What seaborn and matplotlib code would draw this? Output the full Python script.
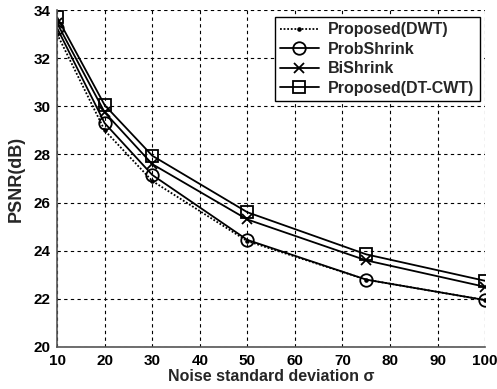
import pandas as pd
import matplotlib
matplotlib.use("Agg")
import matplotlib.pyplot as plt
import seaborn as sns

sigma = [10, 20, 30, 50, 75, 100]
psnr_dwt = [33.0, 29.0, 26.9, 24.4, 22.8, 21.95]
psnr_prob = [33.25, 29.3, 27.15, 24.45, 22.8, 21.95]
psnr_bi = [33.45, 29.75, 27.6, 25.3, 23.6, 22.5]
psnr_dtcwt = [33.7, 30.05, 27.95, 25.6, 23.85, 22.75]

labels = ['Proposed(DWT)', 'ProbShrink', 'BiShrink', 'Proposed(DT-CWT)']
series = [psnr_dwt, psnr_prob, psnr_bi, psnr_dtcwt]

rows = []
for lab, vals in zip(labels, series):
    for s, v in zip(sigma, vals):
        rows.append({'sigma': s, 'PSNR': v, 'method': lab})
df = pd.DataFrame(rows)

sns.set_theme(style="white")
plt.rcParams['font.family'] = ['Liberation Sans', 'DejaVu Sans']

fig = plt.figure(figsize=(4.97, 3.89), dpi=100)
ax = fig.add_axes([0.115, 0.108, 0.861, 0.866])

styles = {
    'Proposed(DWT)': dict(linestyle=(0, (1, 1)), marker='.', markersize=4),
    'ProbShrink': dict(linestyle='-', marker='o', markersize=9, markerfacecolor='none'),
    'BiShrink': dict(linestyle='-', marker='x', markersize=7),
    'Proposed(DT-CWT)': dict(linestyle='-', marker='s', markersize=8, markerfacecolor='none'),
}

for lab in labels:
    sub = df[df['method'] == lab]
    sns.lineplot(data=sub, x='sigma', y='PSNR', ax=ax, color='black', linewidth=1.3,
                 markeredgecolor='black', markeredgewidth=1.3, label=lab, **styles[lab])

ax.set_xlim(10, 100)
ax.set_ylim(20, 34)
ax.set_xticks(range(10, 101, 10))
ax.set_yticks(range(20, 35, 2))
ax.grid(True, color='black', linestyle=(0, (3, 3)), linewidth=0.8)
for sp in ['top', 'right']:
    ax.spines[sp].set_visible(False)
for sp in ['left', 'bottom']:
    ax.spines[sp].set_color('#555555')
    ax.spines[sp].set_linewidth(1.2)
ax.tick_params(axis='both', labelsize=11, direction='in', length=4,
               width=0.8, pad=5, color='#555555', labelcolor='black')
for t in ax.get_xticklabels() + ax.get_yticklabels():
    t.set_fontweight('bold')
ax.set_xlabel('Noise standard deviation σ', fontsize=11.5, fontweight='bold', labelpad=1)
ax.set_ylabel('PSNR(dB)', fontsize=13, fontweight='bold', labelpad=6)

leg = ax.legend(loc='upper right', bbox_to_anchor=(0.988, 0.98), frameon=True, fancybox=False,
                edgecolor='black', framealpha=1, handlelength=2.4, handletextpad=0.6,
                borderpad=0.35, borderaxespad=0, labelspacing=0.28,
                prop={'weight': 'bold', 'size': 11.5})
leg.get_frame().set_linewidth(1.0)

fig.savefig('out.png', dpi=100)
